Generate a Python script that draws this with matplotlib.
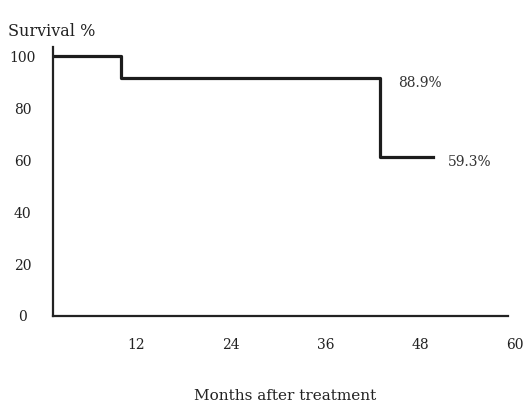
import numpy as np
import matplotlib.pyplot as plt

plt.rcParams['font.family'] = ['DejaVu Serif']

# Kaplan-Meier steps
months = [0, 10.1, 42.9, 49.6]
survival = [100, 91.5, 61.2, 61.2]
xticks = [12, 24, 36, 48, 60]
yticks = [0, 20, 40, 60, 80, 100]
notes = ['88.9%', '59.3%']
note_x = [45.2, 51.5]
note_y = [89.6, 59.2]

fig = plt.figure(figsize=(5.29, 4.09), dpi=100)
ax = fig.add_axes([0.1002, 0.2274, 0.881, 0.6577])

ax.step(months, survival, where='post', color='#1c1c1c', linewidth=2.3)

for t, x, y in zip(notes, note_x, note_y):
    ax.text(x, y, t, fontsize=10, color='#333333', va='center', ha='left')

ax.set_xlim(1.46, 60.5)
ax.set_ylim(0, 103.5)
ax.set_xticks(xticks)
ax.set_yticks(yticks)
ax.tick_params(length=0, labelsize=10, colors='#222222')
ax.tick_params(axis='x', pad=16)
ax.tick_params(axis='y', pad=22)
for lab in ax.get_yticklabels():
    lab.set_horizontalalignment('center')

ax.spines['top'].set_visible(False)
ax.spines['right'].set_visible(False)
for s in ['left', 'bottom']:
    ax.spines[s].set_linewidth(1.6)
    ax.spines[s].set_color('#222222')
ax.spines['bottom'].set_bounds(1.46, 59.1)

fig.text(0.015, 0.922, 'Survival %', fontsize=11.5, color='#222222', va='center')
fig.text(0.539, 0.032, 'Months after treatment', fontsize=11, color='#222222',
         ha='center', va='center')

fig.savefig('out.png', dpi=100)
